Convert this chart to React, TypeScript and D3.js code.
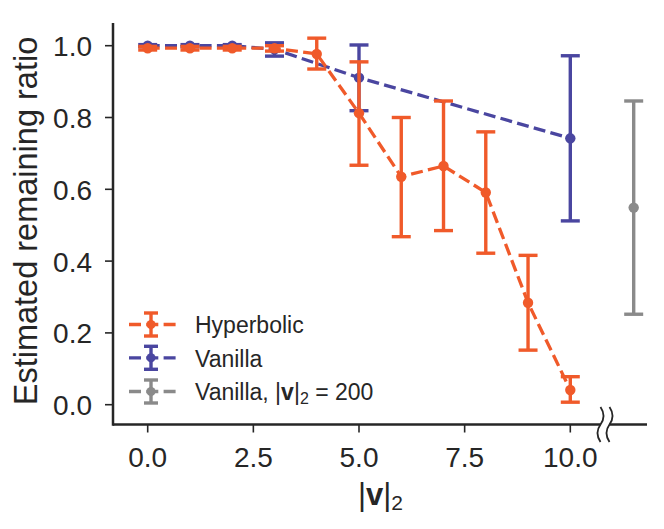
import React, { useEffect } from 'react';
import * as d3 from 'd3';

// Hyperbolic series (|v|_2 = 0..10)
const hypX = [0, 1, 2, 3, 4, 5, 6, 7, 8, 9, 10];
const hypMean = [0.993, 0.993, 0.993, 0.993, 0.977, 0.812, 0.635, 0.665, 0.591, 0.284, 0.041];
const hypLow = [0.988, 0.988, 0.988, 0.985, 0.935, 0.667, 0.468, 0.485, 0.422, 0.152, 0.007];
const hypHigh = [0.998, 0.998, 0.998, 1.0, 1.021, 0.955, 0.8, 0.846, 0.76, 0.416, 0.078];

// Vanilla series
const vanX = [0, 1, 2, 3, 5, 10];
const vanMean = [1.0, 1.0, 1.0, 0.99, 0.911, 0.742];
const vanLow = [0.997, 0.997, 0.997, 0.971, 0.819, 0.512];
const vanHigh = [1.003, 1.003, 1.003, 1.008, 1.002, 0.972];

// Vanilla at |v|_2 = 200, shown past the axis break
const farX = [11.5];
const farMean = [0.549];
const farLow = [0.252];
const farHigh = [0.846];

const xTicks = [0, 2.5, 5, 7.5, 10];
const yTicks = [0, 0.2, 0.4, 0.6, 0.8, 1.0];
const legendLabels = ['Hyperbolic', 'Vanilla'];

const ORANGE = '#f05a2a';
const BLUE = '#4a46a0';
const GRAY = '#8a8a8a';
const AXIS = '#262626';
const FONT = '"Liberation Sans", Arial, sans-serif';

const x = d3.scaleLinear().domain([0, 10]).range([147.7, 570.3]);
const y = d3.scaleLinear().domain([0, 1]).range([404.7, 45.7]);

const fmt = d3.format('.1f');

type SeriesProps = {
  xs: number[];
  mean: number[];
  low: number[];
  high: number[];
  color: string;
  dashed: boolean;
};

const Series: React.FC<SeriesProps> = ({ xs, mean, low, high, color, dashed }) => {
  const line = d3
    .line<number>()
    .x((d) => x(d))
    .y((_, i) => y(mean[i]));
  return (
    <g>
      {xs.map((d, i) => (
        <g key={'e' + i} stroke={color} strokeWidth={3.4}>
          <line x1={x(d)} x2={x(d)} y1={y(low[i])} y2={y(high[i])} />
          <line x1={x(d) - 9.5} x2={x(d) + 9.5} y1={y(low[i])} y2={y(low[i])} />
          <line x1={x(d) - 9.5} x2={x(d) + 9.5} y1={y(high[i])} y2={y(high[i])} />
        </g>
      ))}
      {dashed && (
        <path d={line(xs) || ''} fill="none" stroke={color} strokeWidth={3.3} strokeDasharray="12,5.3" />
      )}
      {xs.map((d, i) => (
        <circle key={'m' + i} cx={x(d)} cy={y(mean[i])} r={5.2} fill={color} />
      ))}
    </g>
  );
};

const LegendHandle: React.FC<{ cy: number; color: string }> = ({ cy, color }) => (
  <g>
    <line x1={129} x2={176} y1={cy} y2={cy} stroke={color} strokeWidth={3.3} strokeDasharray="12,5.3" />
    <g stroke={color} strokeWidth={3.4}>
      <line x1={151} x2={151} y1={cy - 11.5} y2={cy + 11.5} />
      <line x1={144} x2={158} y1={cy - 11.5} y2={cy - 11.5} />
      <line x1={144} x2={158} y1={cy + 11.5} y2={cy + 11.5} />
    </g>
    <circle cx={151} cy={cy} r={4.5} fill={color} />
  </g>
);

const breakPath = (bx: number) =>
  `M${bx},407 C${bx + 4},413 ${bx + 4},419 ${bx},424.5 C${bx - 4},430 ${bx - 4},436 ${bx},442`;

export default function App() {
  useEffect(() => {
    document.body.style.margin = '0';
  }, []);

  const axisY = 424.5;
  const spineX = 113;
  const rightEnd = 647;

  return (
    <svg width={664} height={529} style={{ display: 'block', background: '#fff' }} fontFamily={FONT}>
      {/* spines */}
      <line x1={spineX} x2={spineX} y1={23} y2={axisY + 1.25} stroke={AXIS} strokeWidth={2.5} />
      <line x1={spineX} x2={600.5} y1={axisY} y2={axisY} stroke={AXIS} strokeWidth={2.5} />
      <line x1={609.5} x2={rightEnd} y1={axisY} y2={axisY} stroke={AXIS} strokeWidth={2.5} />
      <path d={breakPath(600.5)} fill="none" stroke={AXIS} strokeWidth={1.8} />
      <path d={breakPath(609.5)} fill="none" stroke={AXIS} strokeWidth={1.8} />

      {/* y ticks */}
      {yTicks.map((t) => (
        <g key={'y' + t}>
          <line x1={spineX - 8} x2={spineX} y1={y(t)} y2={y(t)} stroke={AXIS} strokeWidth={1.6} />
          <text x={92} y={y(t) + 10.5} textAnchor="end" fontSize={28} fill={AXIS}>
            {fmt(t)}
          </text>
        </g>
      ))}

      {/* x ticks */}
      {xTicks.map((t) => (
        <g key={'x' + t}>
          <line x1={x(t)} x2={x(t)} y1={axisY} y2={axisY + 8} stroke={AXIS} strokeWidth={1.6} />
          <text x={x(t)} y={466.5} textAnchor="middle" fontSize={28} fill={AXIS}>
            {fmt(t)}
          </text>
        </g>
      ))}

      {/* axis labels */}
      <text
        transform="translate(37,221) rotate(-90)"
        textAnchor="middle"
        fontSize={32.5}
        fill={AXIS}
      >
        Estimated remaining ratio
      </text>
      <text x={380.5} y={505} textAnchor="middle" fontSize={31} fill={AXIS}>
        |<tspan fontWeight="bold">v</tspan>|<tspan fontSize={21} dy={5}>2</tspan>
      </text>

      {/* data */}
      <Series xs={vanX} mean={vanMean} low={vanLow} high={vanHigh} color={BLUE} dashed />
      <Series xs={hypX} mean={hypMean} low={hypLow} high={hypHigh} color={ORANGE} dashed />
      <Series xs={farX} mean={farMean} low={farLow} high={farHigh} color={GRAY} dashed={false} />

      {/* legend */}
      <LegendHandle cy={324.5} color={ORANGE} />
      <LegendHandle cy={357.8} color={BLUE} />
      <LegendHandle cy={391.5} color={GRAY} />
      <g fontSize={23} fill={AXIS}>
        <text x={195} y={333}>{legendLabels[0]}</text>
        <text x={195} y={366.5}>{legendLabels[1]}</text>
        <text x={195} y={400}>
          Vanilla, |<tspan fontWeight="bold">v</tspan>|<tspan fontSize={16} dy={4}>2</tspan>
          <tspan dy={-4}> = 200</tspan>
        </text>
      </g>
    </svg>
  );
}
